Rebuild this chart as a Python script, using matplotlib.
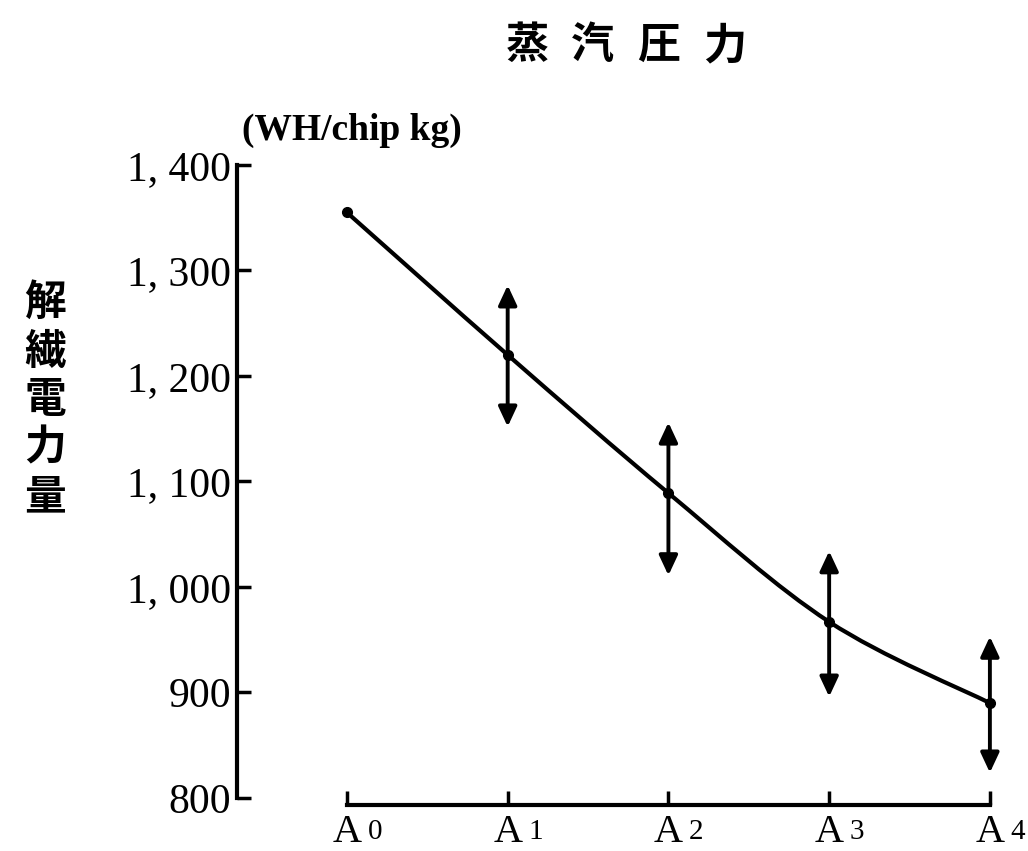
import matplotlib
matplotlib.use("Agg")
import matplotlib.pyplot as plt
from matplotlib.path import Path
from matplotlib.patches import PathPatch
import numpy as np

# ---- data ----
categories = ["A", "A", "A", "A", "A"]
subscripts = ["0", "1", "2", "3", "4"]
power = [1355, 1220, 1089, 967, 890]           # WH/chip kg (curve points)
err_low = [None, 1152, 1011, 896, 824]
err_high = [None, 1286, 1156, 1034, 953]
yticks = [800, 900, 1000, 1100, 1200, 1300, 1400]
ytick_labels = ["800", "900", "1, 000", "1, 100", "1, 200", "1, 300", "1, 400"]
title_chars = ["蒸", "汽", "圧", "力"]
ylabel_chars = ["解", "繊", "電", "力", "量"]
unit_label = "(WH/chip kg)"

serif = "Liberation Serif"
cjk = ["Noto Sans CJK JP", "DejaVu Sans"]

W, H = 1028, 851
fig = plt.figure(figsize=(W / 100, H / 100), dpi=100)
ax = fig.add_axes([237 / W, 1 - 798 / H, (1014 - 237) / W, (798 - 165) / H])
x = np.arange(len(categories))
ax.set_xlim(-0.684, 4.15)
ax.set_ylim(800, 1400)

# smooth curve through the points (Catmull-Rom -> cubic Bezier)
pts = np.column_stack([x, power]).astype(float)
verts = [tuple(pts[0])]
codes = [Path.MOVETO]
n = len(pts)
for i in range(n - 1):
    p0 = pts[i - 1] if i > 0 else pts[i]
    p1 = pts[i]
    p2 = pts[i + 1]
    p3 = pts[i + 2] if i + 2 < n else pts[i + 1]
    c1 = p1 + (p2 - p0) / 6.0
    c2 = p2 - (p3 - p1) / 6.0
    verts += [tuple(c1), tuple(c2), tuple(p2)]
    codes += [Path.CURVE4, Path.CURVE4, Path.CURVE4]
ax.add_patch(PathPatch(Path(verts, codes), fill=False, lw=3.0, color="black",
                       capstyle="round"))

# points
ax.plot(x, power, "o", color="black", ms=7)

# double-headed range arrows
for xi, lo, hi in zip(x, err_low, err_high):
    if lo is None:
        continue
    ax.annotate("", xy=(xi, hi), xytext=(xi, lo),
                arrowprops=dict(arrowstyle="<|-|>,head_length=0.6,head_width=0.28",
                                mutation_scale=20, lw=2.8, color="black",
                                shrinkA=0, shrinkB=0))

# axes styling
for s in ["top", "right"]:
    ax.spines[s].set_visible(False)
ax.spines["left"].set_linewidth(3.0)
ax.spines["bottom"].set_linewidth(3.0)
ax.spines["bottom"].set_bounds(0, 4)
ax.spines["bottom"].set_position(("outward", 5))

ax.set_yticks(yticks)
ax.set_yticklabels(ytick_labels, fontfamily=serif, fontsize=30)
ax.set_xticks(x)
ax.set_xticklabels([""] * len(x))
ax.tick_params(axis="y", direction="in", length=10, width=2.5, pad=4)
ax.tick_params(axis="x", direction="in", length=10, width=2.5, pad=3)

# x labels: "A" with small digit
for xi, a, d in zip(x, categories, subscripts):
    ax.annotate(a, xy=(xi, 0), xycoords=("data", "axes fraction"),
                xytext=(0, -31.5), textcoords="offset points",
                ha="center", va="baseline", fontfamily=serif, fontsize=29)
    ax.annotate(d, xy=(xi, 0), xycoords=("data", "axes fraction"),
                xytext=(20, -29.5), textcoords="offset points",
                ha="center", va="baseline", fontfamily=serif, fontsize=21)

# unit label
fig.text(242 / W, 1 - 140 / H, unit_label, fontfamily=serif, fontsize=27,
         fontweight="bold", ha="left", va="baseline")

# title characters (spaced)
for i, ch in enumerate(title_chars):
    fig.text((527 + 65.7 * i) / W, 1 - 45 / H, ch, fontfamily=cjk,
             fontsize=31, fontweight="bold", ha="center", va="center")

# vertical y label
for i, ch in enumerate(ylabel_chars):
    fig.text(45 / W, 1 - (303 + 48.5 * i) / H, ch, fontfamily=cjk,
             fontsize=30, fontweight="bold", ha="center", va="center")

fig.savefig("out.png", dpi=100)
